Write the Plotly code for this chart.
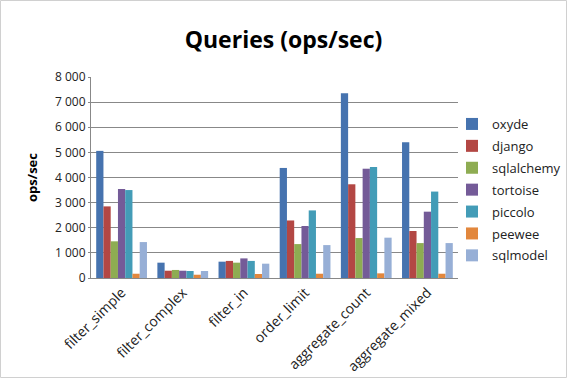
import plotly.graph_objects as go

categories = ["filter_simple", "filter_complex", "filter_in", "order_limit", "aggregate_count", "aggregate_mixed"]
series_names = ["oxyde", "django", "sqlalchemy", "tortoise", "piccolo", "peewee", "sqlmodel"]
oxyde = [5060, 610, 650, 4380, 7350, 5400]
django = [2850, 290, 680, 2290, 3730, 1870]
sqlalchemy = [1460, 320, 610, 1350, 1590, 1390]
tortoise = [3540, 290, 780, 2070, 4350, 2640]
piccolo = [3500, 280, 680, 2690, 4420, 3440]
peewee = [170, 130, 160, 170, 185, 170]
sqlmodel = [1430, 280, 570, 1310, 1605, 1390]
y_ticks = [0, 1000, 2000, 3000, 4000, 5000, 6000, 7000, 8000]

values = [oxyde, django, sqlalchemy, tortoise, piccolo, peewee, sqlmodel]
colors = ["#4673AF", "#B34744", "#8EAC52", "#745B98", "#439CB7", "#E2873D", "#97AFD6"]

fig = go.Figure()
for name, vals, c in zip(series_names, values, colors):
    fig.add_trace(go.Bar(name=name, x=categories, y=vals, legendgroup=name,
                         marker=dict(color=c, line=dict(width=0))))

W, H = 567, 378
ml, mr, mt, mb = 91, 109, 77, 100
pw, ph = W - ml - mr, H - mt - mb

fig.update_layout(
    width=W, height=H, autosize=False,
    margin=dict(l=ml, r=mr, t=mt, b=mb, pad=0, autoexpand=False),
    paper_bgcolor="white", plot_bgcolor="white",
    font=dict(family="Open Sans, Noto Sans, DejaVu Sans", size=12, color="#222"),
    separators=". ",
    barmode="group", bargap=0.17, bargroupgap=0,
    title=dict(text="<b>Queries (ops/sec)</b>", x=0.5, xanchor="center", y=0.895, yanchor="middle",
               font=dict(size=23, color="#000")),
    legend=dict(x=(452 - ml) / pw, y=1 - (109 - mt) / ph, xanchor="left", yanchor="top",
                font=dict(size=13, color="#222"), tracegroupgap=2, itemwidth=30,
                traceorder="grouped", bgcolor="rgba(0,0,0,0)"),
    showlegend=True,
)
fig.update_xaxes(showline=True, linecolor="#888", linewidth=1, tickangle=-45, automargin=False,
                 tickfont=dict(size=14, color="#222"), showgrid=False)
fig.update_yaxes(range=[0, 8000], tickvals=y_ticks, tickformat=",d", showgrid=True, gridcolor="#888",
                 gridwidth=1, showline=True, linecolor="#888", linewidth=1, ticks="outside",
                 ticklen=2, tickcolor="#888", tickfont=dict(size=12, color="#222"), automargin=False,
                 title=dict(text="<b>ops/sec</b>", font=dict(size=13, color="#000"), standoff=14),
                 zeroline=False)

# light frame around the whole chart
fig.add_shape(type="rect", xref="paper", yref="paper",
              x0=(0.5 - ml) / pw, x1=(W - 0.5 - ml) / pw,
              y0=(-mb + 0.5) / ph, y1=(ph + mt - 0.5) / ph,
              line=dict(color="#D0D0D0", width=1), layer="below")

fig.write_html("out.html", config={"displayModeBar": False},
               post_script="document.body.style.margin='0';document.body.style.overflow='hidden';")
